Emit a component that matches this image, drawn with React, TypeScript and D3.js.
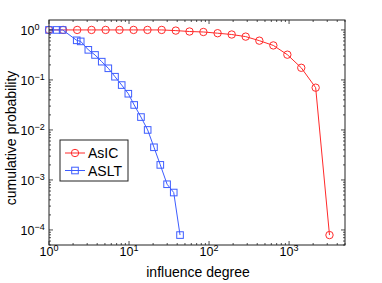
import React from 'react';
import * as d3 from 'd3';

// influence degree (x) and cumulative probability (y)
const asicDegree = [1, 1.5, 2.25, 3.4, 5.1, 7.6, 11.4, 17, 25.6, 38.4, 57, 85, 128, 192, 287, 425, 636, 952, 1420, 2150, 3200];
const asicProb = [1, 1, 1, 1, 1, 1, 1, 1, 1, 0.97, 0.93, 0.91, 0.86, 0.81, 0.735, 0.61, 0.49, 0.32, 0.175, 0.07, 0.000079];

const asltDegree = [1, 1.25, 1.48, 2.22, 2.49, 3.1, 3.76, 4.56, 5.51, 6.68, 8.1, 9.8, 11.6, 14.1, 17.1, 20.5, 24.6, 29.9, 36.2, 43.4];
const asltProb = [1, 1, 1, 0.62, 0.59, 0.4, 0.316, 0.232, 0.171, 0.116, 0.079, 0.053, 0.0316, 0.0181, 0.01, 0.0045, 0.002, 0.00082, 0.00056, 0.000079];

const xTickExps = ['0', '1', '2', '3'];
const yTickExps = ['0', '−1', '−2', '−3', '−4'];
const seriesNames = ['AsIC', 'ASLT'];

const RED = '#ff2a2a';
const BLUE = '#3d5cff';
const FONT = '"Liberation Sans", Arial, Helvetica, sans-serif';

export default function App() {
  const width = 382;
  const height = 283;
  const left = 49, right = 345, top = 20, bottom = 245;

  const x = d3.scaleLog().domain([1, 5000]).range([left, right]);
  const y = d3.scaleLog().domain([5e-5, 1.58]).range([bottom, top]);

  const line = d3.line<[number, number]>()
    .x(d => x(d[0]))
    .y(d => y(d[1]));

  const asic: [number, number][] = asicDegree.map((d, i) => [d, asicProb[i]]);
  const aslt: [number, number][] = asltDegree.map((d, i) => [d, asltProb[i]]);

  // minor + major log ticks inside the box
  const xTicks: { v: number; major: boolean }[] = [];
  for (let e = 0; e <= 3; e++) {
    for (let m = 1; m <= 9; m++) {
      const v = m * Math.pow(10, e);
      if (v <= 5000) xTicks.push({ v, major: m === 1 });
    }
  }
  const yTicks: { v: number; major: boolean }[] = [];
  for (let e = -5; e <= 0; e++) {
    for (let m = 1; m <= 9; m++) {
      const v = m * Math.pow(10, e);
      if (v >= 5e-5 && v <= 1.58) yTicks.push({ v, major: m === 1 });
    }
  }

  const axisColor = '#222';

  return (
    <svg width={width} height={height} style={{ position: 'absolute', left: 0, top: 0, background: '#fff' }}
      fontFamily={FONT}>
      <rect x={0} y={0} width={width} height={height} fill="#fff" />

      {/* series */}
      <path d={line(asic) || ''} fill="none" stroke={RED} strokeWidth={1} />
      {asic.map((d, i) => (
        <circle key={'c' + i} cx={x(d[0])} cy={y(d[1])} r={3.7} fill="none" stroke={RED} strokeWidth={1} />
      ))}
      <path d={line(aslt) || ''} fill="none" stroke={BLUE} strokeWidth={1} />
      {aslt.map((d, i) => (
        <rect key={'s' + i} x={x(d[0]) - 3.3} y={y(d[1]) - 3.3} width={6.6} height={6.6}
          fill="none" stroke={BLUE} strokeWidth={1} />
      ))}

      {/* axes box and ticks */}
      <rect x={left} y={top} width={right - left} height={bottom - top} fill="none" stroke={axisColor} strokeWidth={1} />
      {xTicks.map((t, i) => {
        const px = x(t.v);
        const len = t.major ? 4 : 2;
        return (
          <g key={'xt' + i} stroke={axisColor} strokeWidth={0.8}>
            <line x1={px} x2={px} y1={bottom} y2={bottom - len} />
            <line x1={px} x2={px} y1={top} y2={top + len} />
          </g>
        );
      })}
      {yTicks.map((t, i) => {
        const py = y(t.v);
        const len = t.major ? 4 : 2;
        return (
          <g key={'yt' + i} stroke={axisColor} strokeWidth={0.8}>
            <line x1={left} x2={left + len} y1={py} y2={py} />
            <line x1={right} x2={right - len} y1={py} y2={py} />
          </g>
        );
      })}

      {/* tick labels */}
      {xTickExps.map((e, i) => (
        <text key={'xl' + i} x={x(Math.pow(10, i))} y={256} textAnchor="middle" fontSize={12.5} fill="#000">
          10<tspan fontSize={9} dy={-5.5}>{e}</tspan>
        </text>
      ))}
      {yTickExps.map((e, i) => (
        <text key={'yl' + i} x={20.5} y={y(Math.pow(10, -i)) + 5.5} textAnchor="start" fontSize={12.5} fill="#000">
          10<tspan fontSize={9} dy={-5.5}>{e}</tspan>
        </text>
      ))}

      {/* axis labels */}
      <text x={198} y={277} textAnchor="middle" fontSize={14} fill="#000">influence degree</text>
      <text transform="translate(16,138) rotate(-90)" textAnchor="middle" fontSize={14} fill="#000">cumulative probability</text>

      {/* legend */}
      <rect x={60} y={140} width={68} height={41} fill="#fff" stroke={axisColor} strokeWidth={1} />
      {seriesNames.map((name, i) => {
        const ly = 153 + i * 17.5;
        const color = i === 0 ? RED : BLUE;
        return (
          <g key={'lg' + i}>
            <line x1={65} x2={85} y1={ly} y2={ly} stroke={color} strokeWidth={1} />
            {i === 0
              ? <circle cx={75} cy={ly} r={3.7} fill="none" stroke={color} />
              : <rect x={71.7} y={ly - 3.3} width={6.6} height={6.6} fill="none" stroke={color} />}
            <text x={88} y={ly + 5} fontSize={14} fill="#000">{name}</text>
          </g>
        );
      })}
    </svg>
  );
}
